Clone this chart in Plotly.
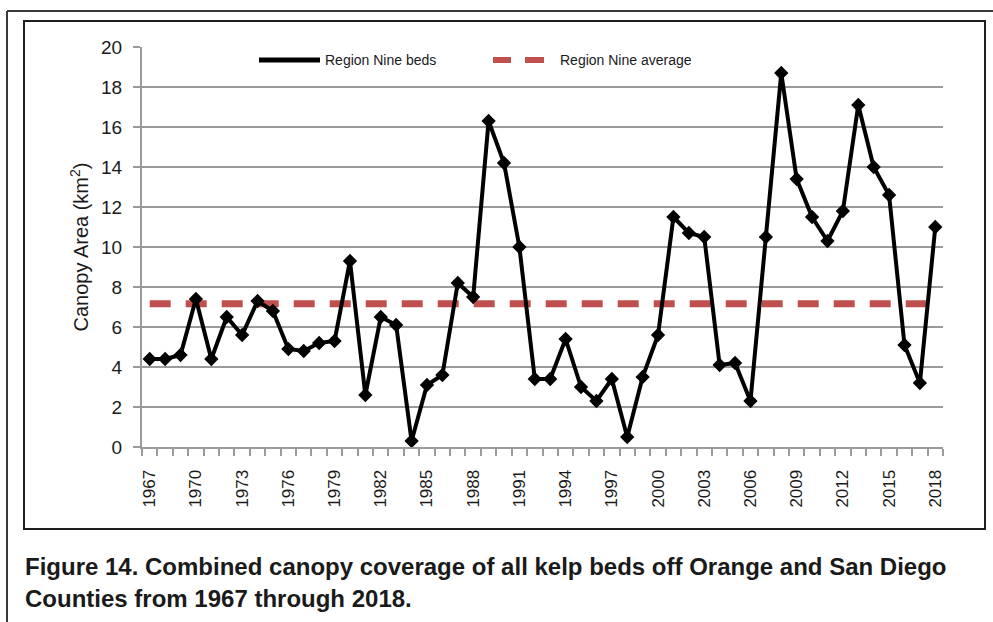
import plotly.graph_objects as go

# ---- data ----
years = list(range(1967, 2019))
canopy_km2 = [4.4, 4.4, 4.6, 7.4, 4.4, 6.5, 5.6, 7.3, 6.8, 4.9, 4.8, 5.2, 5.3, 9.3, 2.6, 6.5, 6.1,
              0.3, 3.1, 3.6, 8.2, 7.5, 16.3, 14.2, 10.0, 3.4, 3.4, 5.4, 3.0, 2.3, 3.4, 0.5, 3.5, 5.6,
              11.5, 10.7, 10.5, 4.1, 4.2, 2.3, 10.5, 18.7, 13.4, 11.5, 10.3, 11.8, 17.1, 14.0, 12.6,
              5.1, 3.2, 11.0]
region_average = 7.16
avg_x = [1967, 2018]
avg_y = [region_average, region_average]
tick_years = years[::3]
tick_labels = [str(y) for y in tick_years]
y_ticks = list(range(0, 21, 2))

W, H = 993, 622
L, R, T, B = 142, 943, 47, 447   # plot area in pixels


def px(x):
    return (x - L) / (R - L)


def py(y):
    return (B - y) / (B - T)


fig = go.Figure()
fig.add_trace(go.Scatter(
    x=avg_x, y=avg_y, mode="lines", name="Region Nine average",
    line=dict(color="#C0504D", width=7, dash="21px,15px"), showlegend=False,
    hoverinfo="skip"))
fig.add_trace(go.Scatter(
    x=years, y=canopy_km2, mode="lines+markers", name="Region Nine beds",
    line=dict(color="black", width=4),
    marker=dict(symbol="diamond", size=11, color="black"), showlegend=False))

grid = "#9a9a9a"
text_col = "#1a1a1a"

shapes = [
    # outer frame (left and top edges)
    dict(type="line", xref="paper", yref="paper", x0=px(7), x1=px(7), y0=py(622), y1=py(11),
         line=dict(color="#3a3a3a", width=2)),
    dict(type="line", xref="paper", yref="paper", x0=px(7), x1=px(993), y0=py(11), y1=py(11),
         line=dict(color="#3a3a3a", width=2)),
    # inner chart frame
    dict(type="rect", xref="paper", yref="paper", x0=px(24), x1=px(985), y0=py(529), y1=py(21),
         line=dict(color="#1f1f1f", width=2)),
    # legend samples
    dict(type="line", xref="paper", yref="paper", x0=px(259), x1=px(320), y0=py(60), y1=py(60),
         line=dict(color="black", width=5)),
    dict(type="line", xref="paper", yref="paper", x0=px(493), x1=px(511), y0=py(60), y1=py(60),
         line=dict(color="#C0504D", width=6)),
    dict(type="line", xref="paper", yref="paper", x0=px(525), x1=px(544), y0=py(60), y1=py(60),
         line=dict(color="#C0504D", width=6)),
]

annotations = [
    dict(text="Region Nine beds", xref="paper", yref="paper", x=px(323), y=py(60),
         xanchor="left", yanchor="middle", showarrow=False,
         font=dict(family="Liberation Sans, Arial", size=14, color=text_col)),
    dict(text="Region Nine average", xref="paper", yref="paper", x=px(558), y=py(60),
         xanchor="left", yanchor="middle", showarrow=False,
         font=dict(family="Liberation Sans, Arial", size=14, color=text_col)),
    dict(text="<b>Figure 14. Combined canopy coverage of all kelp beds off Orange and San Diego</b>",
         xref="paper", yref="paper", x=px(23), y=py(566), xanchor="left", yanchor="middle",
         showarrow=False, font=dict(family="Liberation Sans, Arial", size=24, color=text_col)),
    dict(text="<b>Counties from 1967 through 2018.</b>",
         xref="paper", yref="paper", x=px(23), y=py(598), xanchor="left", yanchor="middle",
         showarrow=False, font=dict(family="Liberation Sans, Arial", size=24, color=text_col)),
]

fig.update_layout(
    width=W, height=H,
    margin=dict(l=L, r=W - R, t=T, b=H - B, pad=0),
    paper_bgcolor="white", plot_bgcolor="white",
    shapes=shapes, annotations=annotations,
    font=dict(family="Liberation Sans, Arial", color=text_col),
    xaxis=dict(
        range=[1966.5, 2018.5], tickmode="array", tickvals=tick_years, ticktext=tick_labels,
        tickangle=-90, ticks="", ticklabelstandoff=14,
        tickfont=dict(size=17, color=text_col),
        showgrid=False, zeroline=False, showline=True, linecolor=grid, linewidth=2,
        minor=dict(tickmode="array", tickvals=[y - 0.5 for y in years] + [years[-1] + 0.5],
                   ticks="outside", ticklen=7, tickwidth=2, tickcolor=grid, showgrid=False),
    ),
    yaxis=dict(
        range=[0, 20], tickmode="array", tickvals=y_ticks,
        ticks="outside", ticklen=7, tickwidth=2, tickcolor=grid, ticklabelstandoff=7,
        tickfont=dict(size=19, color=text_col),
        showgrid=True, gridcolor=grid, gridwidth=2, zeroline=False,
        showline=True, linecolor=grid, linewidth=2,
        title=dict(text="Canopy Area (km<sup>2</sup>)", standoff=7,
                   font=dict(size=20, color=text_col)),
    ),
)

fig.write_html("out.html", config={"displayModeBar": False},
               post_script="document.body.style.margin='0px';document.body.style.overflow='hidden';")
